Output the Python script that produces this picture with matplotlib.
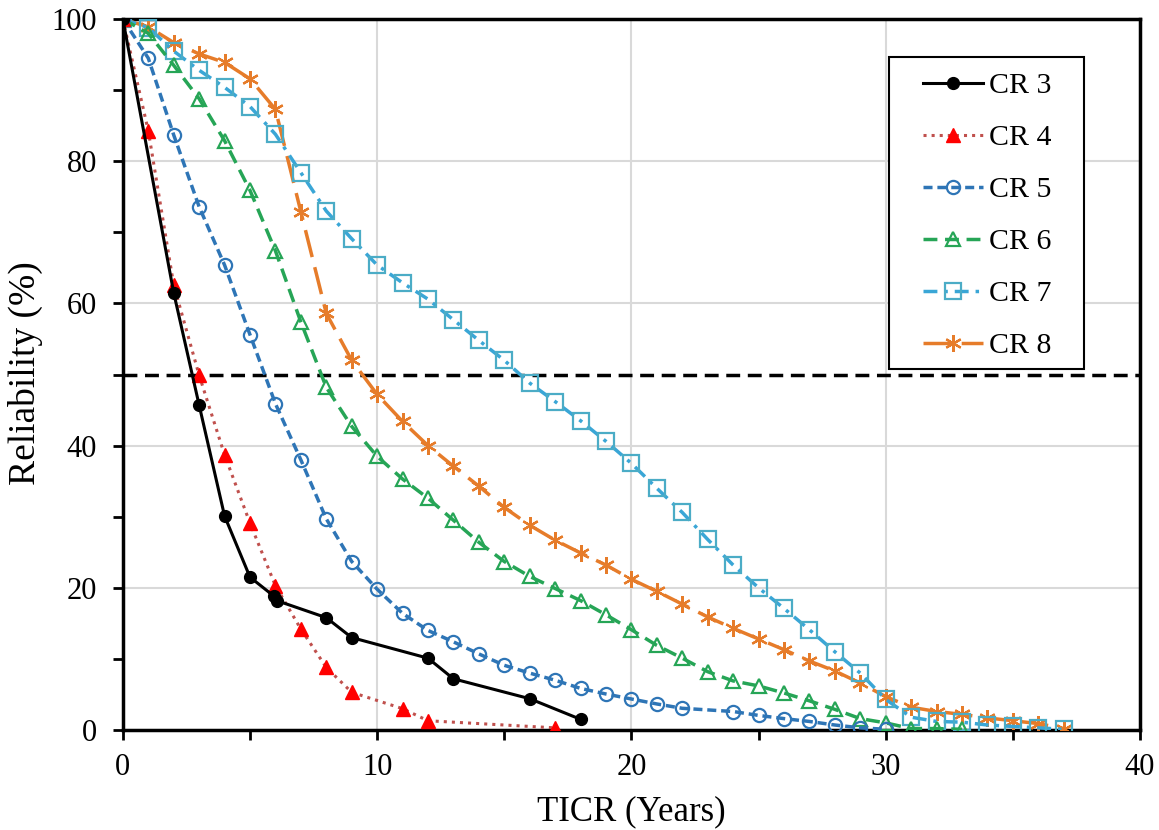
import matplotlib
matplotlib.use("Agg")
import matplotlib.pyplot as plt
from matplotlib.patches import Rectangle
from matplotlib.ticker import MultipleLocator

plt.rcParams["font.family"] = ["Liberation Serif", "DejaVu Serif"]

# CR 3
x3 = [0, 2, 3, 4, 5, 5.95, 6.05, 8, 9, 12, 13, 16, 18]
y3 = [100, 61.5, 45.7, 30.1, 21.5, 18.8, 18.2, 15.8, 13.0, 10.1, 7.2, 4.4, 1.5]
# CR 4
x4 = [0, 1, 2, 3, 4, 5, 6, 7, 8, 9, 11, 12, 17]
y4 = [100, 84.3, 62.6, 49.9, 38.7, 29.1, 20.3, 14.2, 8.8, 5.3, 3.0, 1.3, 0.3]
# CR 5
x5 = [0, 1, 2, 3, 4, 5, 6, 7, 8, 9, 10, 11, 12, 13, 14, 15, 16, 17, 18, 19, 20,
      21, 22, 24, 25, 26, 27, 28, 29, 30]
y5 = [100, 94.5, 83.7, 73.6, 65.4, 55.6, 45.9, 38.0, 29.7, 23.7, 19.8, 16.4, 14.0,
      12.4, 10.7, 9.1, 8.0, 7.0, 5.85, 5.06, 4.36, 3.66, 3.05, 2.6, 2.05, 1.6, 1.2,
      0.7, 0.3, 0.1]
# CR 6
x6 = list(range(0, 34))
y6 = [100, 98.0, 93.5, 88.8, 82.9, 75.9, 67.4, 57.4, 48.2, 42.7, 38.5, 35.3, 32.6,
      29.5, 26.4, 23.7, 21.6, 19.9, 18.2, 16.2, 14.1, 11.9, 10.1, 8.2, 6.9, 6.2,
      5.2, 4.1, 2.9, 1.6, 1.0, 0.2, 0.2, 0.1]
# CR 7
x7 = list(range(0, 38))
y7 = [100, 98.8, 95.5, 92.8, 90.4, 87.7, 83.8, 78.4, 73.0, 69.1, 65.4, 62.9, 60.6,
      57.7, 54.8, 52.0, 48.8, 46.2, 43.5, 40.6, 37.5, 34.0, 30.6, 26.8, 23.2, 20.0,
      17.1, 14.1, 11.0, 8.0, 4.3, 1.8, 1.2, 1.1, 0.7, 0.5, 0.3, 0.1]
# CR 8
x8 = list(range(0, 38))
y8 = [100, 98.9, 96.7, 95.1, 93.9, 91.6, 87.3, 72.9, 58.6, 52.0, 47.2, 43.4, 40.0,
      37.1, 34.3, 31.3, 28.8, 26.7, 24.9, 23.2, 21.2, 19.5, 17.7, 15.9, 14.3, 12.8,
      11.3, 9.7, 8.3, 6.6, 4.7, 3.2, 2.6, 2.2, 1.7, 1.3, 0.9, 0.2]

fig = plt.figure(figsize=(11.59, 8.30), dpi=100)
ax = fig.add_axes([0.106, 0.1205, 0.8776, 0.8565])

ax.axhline(50, color="black", lw=2.5, dashes=(4, 2.2), zorder=1)

ax.plot(x8, y8, color="#E67C2A", lw=2.5, dashes=(8, 3), marker=(6, 2, 0),
        ms=12, mew=1.6, label="CR 8", zorder=3)
ax.plot(x7, y7, color="#3AA6D6", lw=2.5, dashes=(4, 2, 1, 2), marker="s",
        ms=11, mfc="none", mec="#4BACC6", mew=1.6, label="CR 7", zorder=3)
ax.plot(x6, y6, color="#26A556", lw=2.5, dashes=(4, 2.2), marker="^",
        ms=9.5, mfc="none", mew=1.6, label="CR 6", zorder=3)
ax.plot(x5, y5, color="#2E75B6", lw=2.5, dashes=(2.6, 1.4), marker="o",
        ms=9.5, mfc="none", mew=1.6, label="CR 5", zorder=3)
ax.plot(x4, y4, color="#C0504D", lw=2.2, ls=":", marker="^", ms=10,
        mfc="#FF0000", mec="#FF0000", label="CR 4", zorder=4)
ax.plot(x3, y3, color="black", lw=2.2, marker="o", ms=8.5, label="CR 3", zorder=4)

ax.set_xlim(0, 40)
ax.set_ylim(0, 100)
ax.xaxis.set_major_locator(MultipleLocator(10))
ax.xaxis.set_minor_locator(MultipleLocator(5))
ax.yaxis.set_major_locator(MultipleLocator(20))
ax.yaxis.set_minor_locator(MultipleLocator(10))
ax.grid(which="major", color="#D9D9D9", lw=1.5, zorder=0)
ax.set_axisbelow(True)
ax.tick_params(which="both", direction="out", length=7.5, width=2, labelsize=22)
ax.tick_params(axis="y", pad=11)
ax.tick_params(axis="x", pad=9)
for s in ax.spines.values():
    s.set_linewidth(2.5)

ax.set_xlabel("TICR (Years)", fontsize=25)
ax.set_ylabel("Reliability (%)", fontsize=27)
ax.xaxis.set_label_coords(0.5, -0.092)
ax.yaxis.set_label_coords(-0.079, 0.502)

# legend box drawn separately so the padding matches
box = Rectangle((0.7532, 0.5077), 0.1918, 0.4389, transform=ax.transAxes,
                facecolor="white", edgecolor="black", lw=1.5, zorder=6)
ax.add_patch(box)
handles, labels = ax.get_legend_handles_labels()
order = [5, 4, 3, 2, 1, 0]
leg = ax.legend([handles[i] for i in order], [labels[i] for i in order],
                loc="upper left", bbox_to_anchor=(0.7866, 0.925), fontsize=21.5,
                frameon=False, handlelength=2.0, labelspacing=0.84, borderpad=0,
                handletextpad=0.2, borderaxespad=0)
leg.set_zorder(7)

fig.savefig("out.png", dpi=100)
